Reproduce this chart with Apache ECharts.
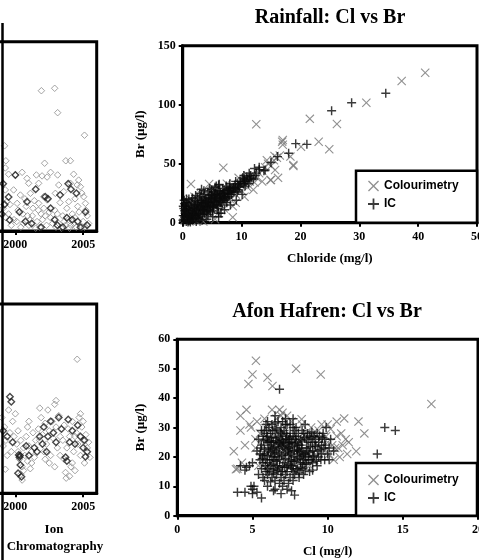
<!DOCTYPE html>
<html><head><meta charset="utf-8">
<script src="https://cdn.jsdelivr.net/npm/echarts@6/dist/echarts.min.js"></script>
<style>html,body{margin:0;padding:0;background:#fff}#c{width:479px;height:560px}</style>
</head><body><div id="c"></div>
<script>
// ---------- data ----------
const titles = ['Rainfall: Cl vs Br', 'Afon Hafren: Cl vs Br'];
const seriesNames = ['Colourimetry', 'IC'];
const leftTickYears = [1985, 2006, 5];
const rfXTicks = [0, 50, 10];
const rfYTicks = [0, 150, 50];
const ahXTicks = [0, 20, 5];
const ahYTicks = [0, 60, 10];

// left panels (time series, cropped)
const tlGrey = [[2001.92,74.1],[2002.9,75.4],[2003.12,62.5],[2005.1,50.6],[1999.2,45],[1999.3,37.1],[2002.16,35.8],[2003.72,37.1],[2004.06,37.1],
[1999.26,33.3],[2000.0,29.6],[2000.86,27.8],[2001.55,29.6],[2001.97,29.1],[2002.34,28.5],[2003.12,29.6],[2001.72,25.2],[2000.98,25.2],[2003.2,24.3],[2004.06,25.2],[2004.67,26.9],[2004.56,24.3],[2004.8,23.4],[1999.5,30],[2000.5,31],[2002.6,31],[2004.3,30],
[1999.26,21.7],[1999.87,21.7],[2000.37,19],[2001.11,19.9],[2002.09,18.1],[2002.34,16.4],[2002.95,19.9],[2003.57,20.8],[2003.94,15.5],[2005.04,18.1],[2005.17,14.6],[2001.72,14.6],[1999.39,15.5],[2000.13,14.6],[2000.7,17],[2001.4,16],[2003.3,15],[2004.4,17],[2004.9,20],
[1999.1,12],[1999.5,9],[1999.9,6],[2000.2,11],[2000.6,4],[2000.9,8],[2001.3,12],[2001.6,5],[2001.9,9],[2002.3,3],[2002.6,7],[2002.9,11],[2003.2,4],[2003.5,8],[2003.8,12],[2004.1,3],[2004.4,7],[2004.7,10],[2005.0,5],[2005.3,8],[1999.7,3],[2000.4,2],[2001.1,6],[2001.8,2],[2002.5,10],[2003.0,2],[2003.6,5],[2004.2,9],[2004.9,2],[2005.4,4],[1999.3,7],[2000.8,13],[2002.1,12],[2003.9,6],[2004.6,13],[2005.2,11],[2003.4,1.5],[2004.0,1.5],[2001.5,1.5],
[1999.6,14],[2000.1,5],[2000.55,9],[2001.0,3],[2001.25,8],[2002.0,6],[2002.75,4],[2003.1,9],[2003.7,3],[2004.3,4],[2004.5,2],[2005.1,2],[2002.2,8],[2001.7,11]];
const tlBlack = [[2000.0,29.6],[1999.1,25],[2002.2,18.1],[2002.4,17],[2000.86,15.5],[1999.58,5.8],[2000.74,5],[2001.2,4],[2002.9,6],[2003.8,7],[2004.2,6],[2004.6,5],[2005.17,10],[1999.2,14],[1999.5,18],[2003.9,25],[2004.1,22],[2004.5,20],[2001.9,2],[2003.1,3],[2005.3,3],[2000.3,10],[2002.6,12],[2003.5,2],[2004.8,2],[1999.0,9],[2001.5,22],[2003.3,19]];
const blGrey = [[2004.56,70.8],
[1999.0,40],[1999.2,35],[1999.3,28],[1999.5,44],[1999.6,32],[1999.8,38],[1999.1,25],[1999.4,20],[1999.26,12.7],[1999.7,22],[1999.9,30],[2000.0,42],
[2000.1,26],[2000.2,22],[2000.3,18],[2000.4,28],[2000.5,14],[2000.6,24],[2000.7,20],[2000.8,30],[2000.9,17],[2001.0,25],[2001.1,13],[2001.2,22],[2001.3,32],[2001.4,19],[2001.5,28],[2000.4,10],[2000.5,7],[2000.6,12],[2000.9,35],[2001.0,38],[2001.2,16],[2000.2,33],
[2001.7,34],[2001.8,28],[2001.9,40],[2002.0,31],[2002.1,22],[2002.2,37],[2002.3,26],[2002.4,44],[2002.5,33],[2002.6,20],[2002.7,38],[2002.8,29],[2002.9,47],[2003.0,35],[2003.1,24],[2003.2,41],[2003.3,30],[2002.2,18],[2001.8,45],[2003.0,49],[2002.5,16],[2002.9,14],[2003.3,20],
[2003.5,28],[2003.6,18],[2003.7,11],[2003.75,8],[2003.8,24],[2003.9,34],[2004.0,30],[2004.1,14],[2004.2,38],[2004.3,22],[2004.4,12],[2004.5,32],[2004.6,26],[2004.7,40],[2004.8,20],[2004.9,35],[2005.0,28],[2005.1,16],[2005.2,31],[2005.3,24],[2005.4,27],[2005.5,19],[2004.0,9],[2004.2,16],[2004.8,42],[2003.6,36],[2004.4,30],[2005.0,38]];
const blBlack = [[1999.6,51],[1999.7,48.4],[1999.1,33],[1999.4,30],[1999.8,27],[2000.25,20.2],[2000.3,19],[2000.35,20],[2000.37,15],[2000.2,10.6],[2000.45,8.8],[2000.8,25],[2001.0,20],[2001.4,24],[2001.6,22],[2001.8,30],[2002.0,26],[2002.1,35],[2002.4,30],[2002.6,38],[2002.8,32],[2003.0,27],[2003.2,40],[2002.3,22],[2003.4,34],[2003.7,19],[2003.8,17],[2004.0,27],[2004.2,33],[2004.4,26],[2004.6,36],[2004.8,30],[2005.0,24],[2005.17,19.3],[2005.3,22],[2005.1,28],[2003.9,39]];

// Rainfall: Cl (mg/l) vs Br (ug/l)
const rfCol = [[41.2,127],[37.2,120],[31.2,101.7],[26.2,83.6],[21.6,88],[12.5,83.4],[23.1,68.6],[24.9,62.2],[18.8,48],[17,70],[17,66],[16.2,38],[15,36.2],[15.7,44.7],[6.9,46.6],[1.4,32.8],[4.5,32.8],[8.5,4.6],[20.1,64.4],[18.3,56],[15.6,56.5],[14.3,53],[16.9,68.7],[14.9,36.2],[18.8,48.9],
[0.3,2],[0.5,6],[0.8,10],[1,4],[1.2,8],[1.5,12],[1.8,3],[2,9],[2.2,14],[2.5,6],[2.8,11],[3,16],[3.2,8],[3.5,13],[3.8,18],[4,10],[4.2,15],[4.5,20],[4.8,12],[5,17],[5.2,22],[5.5,14],[5.8,19],[6,24],[6.3,16],[6.5,21],[6.8,26],[7,18],[7.3,23],[7.6,28],[8,20],[8.3,26],[8.6,30],[9,24],[9.3,29],[9.6,33],[10,27],[10.3,32],[10.6,36],[11,30],[11.4,35],[11.8,39],[12.2,34],[12.6,38],[13,42],[13.5,44],[14,47],[14.5,50],[15,48],[15.5,53],[16,55],[16.5,57],[2,22],[3,25],[5,28],[1,18],[0.5,15],[7,12],[9,17],[6,8],[4,4],[8.5,14],[10.5,22],[12,28],[3.5,1],[5.5,3],[11,40],[9.5,38],[13.5,35],[7.5,33],[1.2,20],[2.4,1]];
const rfIc = [[0.2,3],[0.4,8],[0.6,1],[0.8,5],[1.0,12],[1.2,2],[1.4,7],[1.6,10],[1.8,4],[2.0,13],[2.2,6],[2.4,9],[2.6,15],[2.8,3],[3.0,11],[3.2,17],[3.4,7],[3.6,13],[3.8,19],[4.0,9],[4.2,15],[4.4,21],[4.6,11],[4.8,17],[5.0,23],[5.2,13],[5.4,19],[5.6,25],[5.8,15],[6.0,21],[6.2,27],[6.4,17],[6.6,23],[6.8,29],[7.0,19],[7.2,25],[7.4,31],[7.6,21],[7.8,27],[8.0,33],[8.3,24],[8.6,30],[9.0,35],[9.4,28],[9.8,33],[10.2,38],[10.6,31],[11.0,36],[11.5,40],[12.0,37],[12.5,42],[13.0,45],[13.8,44],[14.0,44.7],
[0.3,10],[0.5,14],[0.7,17],[1.1,15],[1.5,18],[2.1,19],[2.5,21],[3.1,22],[3.7,24],[4.3,26],[4.9,28],[5.5,30],[6.1,32],[0.9,0.5],[1.3,0.5],[2.3,1],[3.3,2],[4.1,3],[5.1,5],[6.1,8],[7.1,11],[8.1,15],[9.1,19],[10.1,24],
[0.1,6],[0.6,11],[1.0,7],[1.4,3],[1.9,8],[2.3,12],[2.7,8],[3.1,5],[3.5,10],[3.9,14],[4.3,7],[4.7,14],[5.1,10],[5.5,16],[5.9,12],[6.3,20],[6.7,15],[7.1,22],[7.5,17],[7.9,24],[8.7,26],[9.5,31],[10.5,35],[11.2,33],[0.2,12],[0.9,2],[1.7,6],[2.6,4],[3.3,14],[4.4,18],[5.3,26],[6.9,25],[8.2,29],
[0.15,1],[0.35,4.5],[0.55,9],[0.75,13],[0.95,3],[1.15,10],[1.35,14],[1.55,5],[1.75,12],[1.95,16],[2.15,3.5],[2.35,10.5],[2.55,17],[2.75,7],[2.95,14],[3.15,19],[3.35,11],[3.55,16],[3.75,8],[3.95,21],[4.15,12],[4.35,17],[4.55,23],[4.75,9],[4.95,20],[5.15,15],[5.35,22],[5.65,18],[5.85,24],[6.05,14],[6.25,19],[6.45,26],[6.75,21],[7.05,27],[7.35,20],[7.65,25],[7.95,30],[8.45,27],[8.85,32],[9.25,26],[9.65,30],[10.05,34],[10.45,37],[10.9,39],[11.7,38],[0.45,17],[0.25,19],[1.05,20],[1.65,21],[0.1,14],[0.3,16],[0.65,20],[2.2,23],[2.9,25],[3.6,27],[4.6,29],[5.7,31],
[0.05,2],[0.25,6],[0.45,11],[0.65,4],[0.85,8],[1.05,1.5],[1.25,5],[1.45,11],[1.65,2],[1.85,7],[2.05,10],[2.25,15],[2.45,4],[2.65,12],[2.85,18],[3.05,8],[3.25,13],[3.45,20],[3.65,10],[3.85,16],[4.05,18],[4.25,10],[4.45,14],[4.65,20],[4.85,24],[5.05,13],[5.25,18],[5.45,24],[5.75,21],[5.95,27],[6.35,23],[6.55,18],[6.85,24],[7.25,22],[7.55,28],[7.85,22],[8.15,26],[8.55,29],[8.95,29],[9.35,33],[9.75,35],[10.35,33],[10.75,35],[11.4,37],[12.3,40],
[3.2,28.3],[6.2,32.5],[6.1,5.1],[6.5,8],[16.1,56],[18,58.8],[19.2,67],[21.1,66.4],[25.3,94.9],[28.7,101.7],[34.5,109.7],[15,51],[13,47],[12.2,46],[11.3,42],[10.4,40]];

// Afon Hafren: Cl (mg/l) vs Br (ug/l)
const ahCol = [[5.23,52.7],[5.0,48],[4.73,44.8],[7.9,50],[9.54,48],[6.0,47],[6.33,44.1],[16.9,38],[4.6,36],[4.2,34],[3.76,21.9],[3.9,15.8],[4.2,29],[12.05,32],[12.44,28],[11.9,21.9],[11.1,33.1],[10.6,32],[8.27,32.8],[8.3,31],[11.4,25],[11.3,21],[10.5,23],[6.3,36],[6.8,36],[6.9,34],[5.3,32],[4.9,30],[5.2,26],[4.8,31],[4.3,18],[4.5,24],[4.0,16],
[9.0,28],[9.5,26],[10.0,25],[10.3,24],[10.6,27],[10.8,20],[9.8,22],[9.2,21],[8.8,24],[9.4,29],[10.2,29.5],[11.0,24],[11.2,26],[10.9,28],[9.6,31],[10.0,31],[7.0,35],[7.3,34],[6.6,33],[5.8,33],[5.5,28],[5.2,23],[5.4,17],[5.6,20],[6.2,26],[6.8,24],[7.5,25],[8.0,26],[8.5,22],[7.0,20],[6.5,18],[7.8,17],[8.8,17],[9.1,19],[10.4,19],[10.7,23],[9.9,27],[8.6,28],[8.9,30],[7.6,32],[6.0,30],[5.7,24],[6.4,21],[7.2,23],[8.2,20],[9.3,24],[10.1,21],[5.9,16]];
const ahIc = [[5.6,24],[5.8,21],[5.9,26],[6.0,18],[6.1,23],[6.2,28],[6.3,20],[6.4,25],[6.5,16],[6.6,22],[6.7,27],[6.8,19],[6.9,24],[7.0,17],[7.1,21],[7.2,26],[7.3,15],[7.4,23],[7.5,19],[7.6,25],[7.7,17],[7.8,22],[7.9,27],[8.0,20],[8.1,24],[8.2,18],[8.3,23],[8.5,21],[8.7,25],[8.9,19],
[5.7,18],[5.9,15],[6.1,30],[6.3,31],[6.5,29],[6.7,32],[6.9,30],[7.1,29],[7.3,31],[7.5,28],[7.7,30],[6.0,20.5],[6.2,17],[6.4,22.5],[6.6,18.5],[6.8,21.5],[7.0,23.5],[7.2,19.5],[7.4,17.5],[7.6,21],[7.8,18.5],[8.0,16],[8.2,26],[8.4,28],[8.6,23],[8.8,27],[9.0,22],[9.2,26],[9.4,20],[9.6,24],[9.8,19],[10.0,21],[10.2,26],[9.7,28],[9.9,30],
[5.8,22.5],[6.0,25],[6.2,21.5],[6.4,19],[6.6,25.5],[6.8,16.5],[7.0,27.5],[7.2,22.5],[7.4,20.5],[7.6,16],[7.8,24.5],[8.0,22.5],[8.2,21.5],[8.4,19],[8.6,17.5],[8.8,21.5],[9.0,18],[9.2,23.5],[6.5,20],[7.0,25.5],[7.5,23],[6.3,26.5],[6.9,28],[7.3,27],
[5.5,21],[5.7,27],[5.9,19],[6.1,25.5],[6.3,17.5],[6.5,23.5],[6.7,20],[6.9,26],[7.1,18],[7.3,24.5],[7.5,21.5],[7.7,27],[7.9,19],[8.1,22],[8.3,25.5],[8.5,18],[8.7,22],[8.9,26.5],[9.1,20.5],[9.3,28],[9.5,22.5],[5.6,16],[5.8,29],[6.0,27],[6.2,24],[6.4,15.5],[6.6,29.5],[6.8,25],[7.0,15],[7.2,31],[7.4,26],[7.6,18.5],[7.8,29],[8.0,24],[8.2,16.5],[8.4,21],[8.6,26],[8.8,15],[9.0,25],[9.4,25],[9.6,21],[9.8,26],[10.1,23],[6.1,15],[6.7,15.5],[7.9,15.5],[8.3,16],[5.9,31],[6.5,31.5],[7.0,32],[7.7,33],
[5.55,23],[5.65,19.5],[5.75,25.5],[5.85,17],[5.95,28],[6.05,22],[6.15,19],[6.25,25],[6.35,29],[6.45,21],[6.55,26.5],[6.65,17],[6.75,23],[6.85,28.5],[6.95,20.5],[7.05,25],[7.15,16.5],[7.25,28],[7.35,22],[7.45,25],[7.55,17],[7.65,23.5],[7.75,20],[7.85,26],[7.95,22],[8.05,28],[8.15,19.5],[8.25,24],[8.35,17.5],[8.45,26.5],[8.55,20],[8.65,28],[8.75,19],[8.85,23.5],[8.95,28.5],[9.05,20],[9.15,24],[9.25,18.5],[9.35,22],[9.45,27],[9.55,19],[9.65,26.5],[9.75,23],[9.85,24],[6.0,16],[6.4,14.5],[6.9,15],[7.3,16.5],[7.7,15],[8.1,14.5],[8.5,15.5],[5.7,20.5],[6.3,23],[6.7,24.5],[7.1,24],[7.5,26.5],[7.9,25],[8.3,20.5],[8.7,20],[9.1,27],
[5.4,14],[5.7,13],[6.0,14],[6.3,13],[6.6,14],[6.9,13],[7.2,14],[7.5,13],[7.8,14],[8.1,13],[8.4,14],[5.8,12],[6.2,11.5],[6.5,12],[6.8,11],[7.1,12],[7.4,11],[7.7,12],[6.0,10],[6.5,9],[7.0,10],[7.3,9],[7.6,8.5],[7.8,7],[6.4,8.5],[6.9,7.5],[5.1,10],[5.0,9],[4.9,10],[5.3,8],[5.6,6],[4.0,8],[4.5,8],[5.0,7.5],
[6.8,43],[13.8,30],[14.5,29],[13.3,21],[9.0,15.5],[9.3,17],[4.5,15.5],[5.0,18],[4.8,17],[4.2,17],[4.6,16.5],[10.1,19],[10.4,22],[5.5,19],[5.3,22],[5.4,26],[5.6,29],[6.0,32],[6.5,34],[7.2,33],[7.9,30],[8.3,29],[8.5,31],[7.5,31]];

// ---------- chart ----------
const XMARK = 'path://M0,0.85L0.85,0L5,4.15L9.15,0L10,0.85L5.85,5L10,9.15L9.15,10L5,5.85L0.85,10L0,9.15L4.15,5Z';
const PLUS = 'path://M4.2,0L5.8,0L5.8,4.2L10,4.2L10,5.8L5.8,5.8L5.8,10L4.2,10L4.2,5.8L0,5.8L0,4.2L4.2,4.2Z';
const SERIF = '"Liberation Serif","Times New Roman",serif';
const SANS = '"Liberation Sans",Arial,sans-serif';
const GREY = '#747474', BLACK = '#0a0a0a';
const plain = v => String(v);

function xAx(gi, t, name, gap){
  return {gridIndex: gi, type:'value', min:t[0], max:t[1], interval:t[2],
    name: name || '', nameLocation:'middle', nameGap: gap || 0,
    nameTextStyle:{fontFamily:SERIF, fontWeight:'bold', fontSize:13, color:'#000'},
    axisLine:{show:true, onZero:false, lineStyle:{color:'#000', width:3}},
    axisTick:{show:true, length:4, lineStyle:{color:'#000', width:2}},
    axisLabel:{fontFamily:SERIF, fontWeight:'bold', fontSize:12, color:'#000', margin:8, formatter:plain, hideOverlap:false},
    splitLine:{show:false}};
}
function yAx(gi, t, name, gap, hide){
  return {gridIndex: gi, type:'value', min:t[0], max:t[1], interval:t[2],
    name: name || '', nameLocation:'middle', nameGap: gap || 0,
    nameTextStyle:{fontFamily:SERIF, fontWeight:'bold', fontSize:13, color:'#000'},
    axisLine:{show:!hide, onZero:false, lineStyle:{color:'#000', width:3}},
    axisTick:{show:!hide, length:4, lineStyle:{color:'#000', width:2}},
    axisLabel:{show:!hide, fontFamily:SERIF, fontWeight:'bold', fontSize:12, color:'#000', margin:7, formatter:plain},
    splitLine:{show:false}};
}
const gridBase = {show:true, borderColor:'#000', borderWidth:3, backgroundColor:'transparent', containLabel:false, outerBoundsMode:'none'};

function diamonds(gi, data, color, bw, name){
  return {name:name, type:'scatter', xAxisIndex:gi, yAxisIndex:gi, data:data, symbol:'diamond', symbolSize:6.5,
    itemStyle:{color:'rgba(255,255,255,0)', borderColor:color, borderWidth:bw}, silent:true};
}
function marks(gi, data, name, sym, color){
  return {name:name, type:'scatter', xAxisIndex:gi, yAxisIndex:gi, data:data, symbol:sym, symbolSize:9,
    itemStyle:{color:color}, silent:true};
}

const chart = echarts.init(document.getElementById('c'), null, {renderer:'canvas'});
chart.setOption({
  animation:false,
  backgroundColor:'#fff',
  grid:[
    Object.assign({left:-188, right:382.3, top:41.7, bottom:329}, gridBase),
    Object.assign({left:-188, right:382.3, top:304, bottom:66.7}, gridBase),
    Object.assign({left:182.7, right:2, top:45.7, bottom:337.3}, gridBase),
    Object.assign({left:177.3, right:1, top:339.3, bottom:44.3}, gridBase)
  ],
  xAxis:[ xAx(0, leftTickYears), xAx(1, leftTickYears),
          xAx(2, rfXTicks, 'Chloride (mg/l)', 29), xAx(3, ahXTicks, 'Cl (mg/l)', 29) ],
  yAxis:[ yAx(0, [0,100,50], '', 0, true), yAx(1, [0,100,50], '', 0, true),
          yAx(2, rfYTicks, 'Br (µg/l)', 32), yAx(3, ahYTicks, 'Br (µg/l)', 27) ],
  legend:[
    {data:[{name:seriesNames[0], icon:XMARK},{name:seriesNames[1], icon:PLUS}], orient:'vertical', left:368, top:180,
     itemWidth:11, itemHeight:11, itemGap:6, selectedMode:false, padding:0,
     textStyle:{fontFamily:SANS, fontWeight:'bold', fontSize:12, color:'#000'}},
    {data:[{name:seriesNames[0], icon:XMARK},{name:seriesNames[1], icon:PLUS}], orient:'vertical', left:368, top:474,
     itemWidth:11, itemHeight:11, itemGap:6, selectedMode:false, padding:0,
     textStyle:{fontFamily:SANS, fontWeight:'bold', fontSize:12, color:'#000'}}
  ],
  series:[
    diamonds(0, tlGrey, '#8c8c8c', 1, 'tl-grey'),
    diamonds(0, tlBlack, '#1c1c1c', 1.4, 'tl-black'),
    diamonds(1, blGrey, '#8c8c8c', 1, 'bl-grey'),
    diamonds(1, blBlack, '#1c1c1c', 1.4, 'bl-black'),
    marks(2, rfCol, seriesNames[0], XMARK, GREY),
    marks(2, rfIc, seriesNames[1], PLUS, BLACK),
    marks(3, ahCol, seriesNames[0], XMARK, GREY),
    marks(3, ahIc, seriesNames[1], PLUS, BLACK)
  ],
  graphic:[
    {type:'line', shape:{x1:2.5, y1:23, x2:2.5, y2:560}, style:{stroke:'#000', lineWidth:2.5}, z:10},
    {type:'rect', shape:{x:356, y:170.7, width:121, height:52}, style:{fill:'#fff', stroke:'#000', lineWidth:2.5}, z:3},
    {type:'rect', shape:{x:356, y:463, width:121, height:52.7}, style:{fill:'#fff', stroke:'#000', lineWidth:2.5}, z:3},
    {type:'text', x:330, y:18, style:{text:titles[0], font:'bold 20px ' + SERIF, fill:'#000', align:'center', verticalAlign:'middle'}, z:10},
    {type:'text', x:327, y:312, style:{text:titles[1], font:'bold 20px ' + SERIF, fill:'#000', align:'center', verticalAlign:'middle'}, z:10},
    {type:'text', x:54, y:530, style:{text:'Ion', font:'bold 13px ' + SERIF, fill:'#000', align:'center', verticalAlign:'middle'}, z:10},
    {type:'text', x:55, y:547, style:{text:'Chromatography', font:'bold 13px ' + SERIF, fill:'#000', align:'center', verticalAlign:'middle'}, z:10}
  ]
});
</script>
</body></html>
